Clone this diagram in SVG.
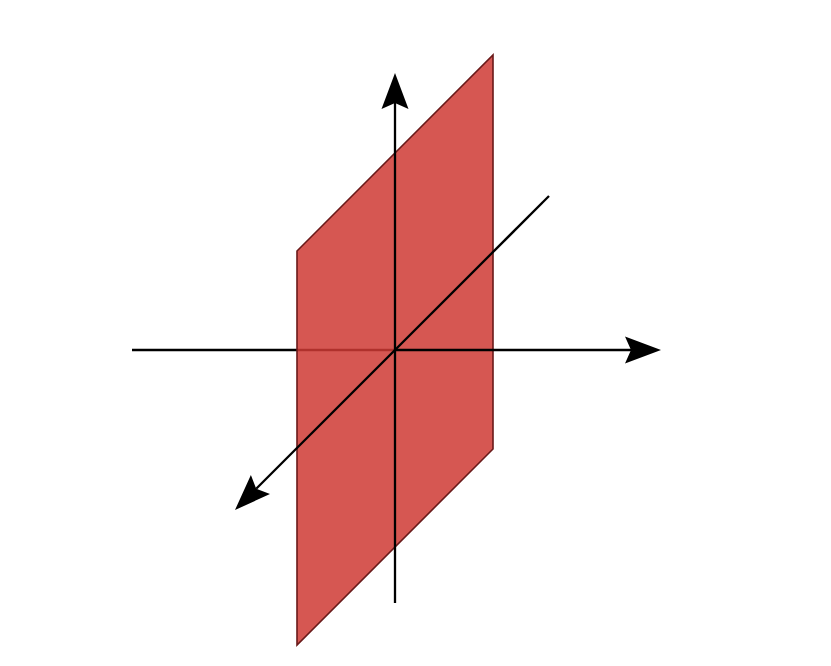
<svg xmlns="http://www.w3.org/2000/svg" width="831" height="666" viewBox="0 0 831 666">
<style>
.ax{stroke:#000;stroke-width:2.3;fill:none}
.plane{fill:#cf3a34;fill-opacity:0.85;stroke:#6a1a1a;stroke-width:1.6;stroke-linejoin:miter}
</style>
<defs>
<marker id="arr" markerUnits="userSpaceOnUse" markerWidth="40" markerHeight="30" refX="6" refY="13.5" orient="auto" overflow="visible">
<path d="M0,0 L36,13.5 L0,27 L6,13.5 Z" fill="#000"/>
</marker>
</defs>
<rect width="831" height="666" fill="#fff"/>
<g id="connectors-back">
<line class="ax" x1="132" y1="350" x2="395" y2="350"/>
</g>
<g id="plane">
<polygon class="plane" points="297,251 493,55 493,449 297,645"/>
</g>
<g id="connectors">
<line class="ax" x1="395" y1="350" x2="631" y2="350" marker-end="url(#arr)"/>
<line class="ax" x1="395" y1="603" x2="395" y2="103" marker-end="url(#arr)"/>
<line class="ax" x1="549" y1="196" x2="256.2" y2="488.8" marker-end="url(#arr)"/>
</g>
</svg>
